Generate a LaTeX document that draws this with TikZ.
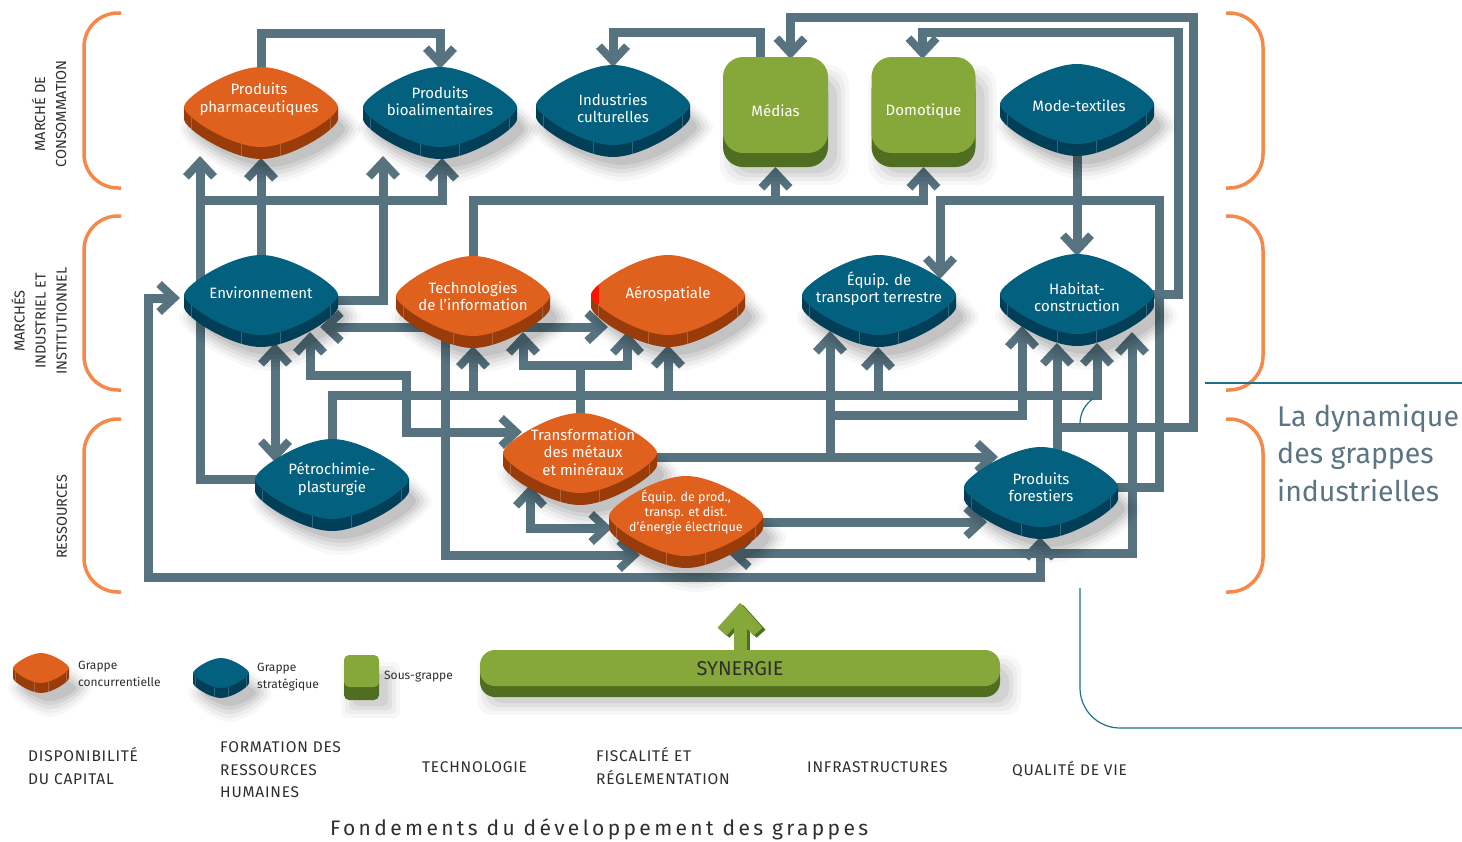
\documentclass[tikz,border=0pt]{standalone}
\usepackage{fontspec}
\setmainfont{Fira Sans}
\newfontfamily\spacedfont[LetterSpace=16]{Fira Sans}
\newfontfamily\capsfont[LetterSpace=5]{Fira Sans}
\usetikzlibrary{arrows.meta,shapes.geometric,calc}
\pgfdeclarelayer{bg}
\pgfsetlayers{bg,main}

\definecolor{linkc}{HTML}{56737F}
\definecolor{orgtop}{HTML}{E0601E}
\definecolor{orgside}{HTML}{9A3B0A}
\definecolor{blutop}{HTML}{03617F}
\definecolor{bluside}{HTML}{013F58}
\definecolor{grntop}{HTML}{86A83B}
\definecolor{grnside}{HTML}{4F6E1F}
\definecolor{brkc}{HTML}{F5894C}
\definecolor{ttlc}{HTML}{5B7583}
\definecolor{frmc}{HTML}{1F6F8F}
\definecolor{lblc}{HTML}{2E2E2E}

% top face of a rounded lozenge: half width, half height, vertical offset
\newcommand\lozpath[3]{(-#1,#3) .. controls (-#1,#3-0.25*#2) and (-0.39*#1,#3-#2) .. (0,#3-#2) .. controls (0.39*#1,#3-#2) and (#1,#3-0.25*#2) .. (#1,#3) .. controls (#1,#3+0.25*#2) and (0.39*#1,#3+#2) .. (0,#3+#2) .. controls (-0.39*#1,#3+#2) and (-#1,#3+0.25*#2) .. (-#1,#3) -- cycle}
% side band of the lozenge, from the middle down to the given depth
\newcommand\lozband[3]{(-#1,0) -- (-#1,#3) .. controls (-#1,#3+0.25*#2) and (-0.39*#1,#3+#2) .. (0,#3+#2) .. controls (0.39*#1,#3+#2) and (#1,#3+0.25*#2) .. (#1,#3) -- (#1,0) -- cycle}

% cluster block: name, position, top colour, side colour, half width, half height, depth
\newcommand\grappe[7]{%
  \node[anchorbox,minimum width={2*#5},minimum height={2*#6}] (#1) at (#2) {};
  \begin{scope}[shift={(#1.center)}]
    \foreach \shx/\shop in {14/0.03,10/0.04,6/0.05,2/0.06,-2/0.07}{%
      \fill[black,opacity=\shop,shift={(9,#7+10)},xscale={1+\shx/#5},yscale={1+\shx/#6}] \lozpath{#5}{#6}{0};}
    \fill[#4] \lozband{#5}{#6}{#7};
    \foreach \fx/\fy in {-0.9/0.26,-0.253/0.92,0.253/0.92,0.9/0.26}{%
      \draw[white,opacity=0.2,line width=0.7pt] (\fx*#5,\fy*#6) -- ++(0,#7);}
    \fill[#3] \lozpath{#5}{#6}{0};
  \end{scope}}

% sub-cluster block: name, position, half width, half height, depth, corner radius
\newcommand\sousgrappe[6]{%
  \node[boxanchor,minimum width={2*#3},minimum height={2*#4}] (#1) at (#2) {};
  \begin{scope}[shift={(#1.center)}]
    \foreach \shx/\shop in {12/0.03,8/0.04,4/0.05,0/0.06}{%
      \fill[black,opacity=\shop,rounded corners=#6,shift={(9,#5+6)}] (-#3-\shx,-#4-\shx) rectangle (#3+\shx,#4+\shx);}
    \fill[grnside,rounded corners=#6] (-#3,-#4+#5) rectangle (#3,#4+#5);
    \fill[grntop,rounded corners=#6] (-#3,-#4) rectangle (#3,#4);
  \end{scope}}

\begin{document}
\begin{tikzpicture}[x=1pt,y=-1pt,
  anchorbox/.style={shape=diamond,inner sep=0pt,draw=none},
  boxanchor/.style={rectangle,inner sep=0pt,draw=none},
  conn/.style={draw=linkc,line width=9pt},
  Chev/.tip={Straight Barb[length=15pt,width=28pt,line width=8pt]},
  txt/.style={text=white,align=center,inner sep=0pt,font=\fontsize{15}{17.5}\selectfont},
  smalltxt/.style={text=white,align=center,inner sep=0pt,font=\fontsize{12.5}{15}\selectfont},
  brk/.style={draw=brkc,line width=3.5pt,rounded corners=34pt},
  sidelbl/.style={align=center,rotate=90,text=lblc,inner sep=0pt,font=\fontsize{14.5}{21}\selectfont},
  lab/.style={anchor=west,align=left,text=lblc,inner sep=0pt,font=\capsfont\fontsize{15.5}{22.5}\selectfont},
  leg/.style={anchor=west,align=left,text=lblc,inner sep=0pt,font=\fontsize{12}{17}\selectfont},
  frame/.style={draw=frmc,line width=1.2pt}]

\begin{pgfonlayer}{bg}
  \fill[white] (0,0) rectangle (1462,841);
\end{pgfonlayer}
\useasboundingbox (0,0) rectangle (1462,841);

% market brackets
\draw[brk] (121,13) -| (84,188) -- (121,188);
\draw[brk] (121,216) -| (84,390) -- (121,390);
\draw[brk] (121,419) -| (84,592) -- (121,592);
\draw[brk] (1226,13) -| (1263,188) -- (1226,188);
\draw[brk] (1226,216) -| (1263,390) -- (1226,390);
\draw[brk] (1226,419) -| (1263,592) -- (1226,592);

\node[sidelbl] (m1) at (49,114) {MARCHÉ DE\\CONSOMMATION};
\node[sidelbl] (m2) at (39,321) {MARCHÉS\\INDUSTRIEL ET\\INSTITUTIONNEL};
\node[sidelbl] (m3) at (62,517) {RESSOURCES};

% title and frame
\node[anchor=north west,align=left,text=ttlc,inner sep=0pt,font=\fontsize{28.5}{37.5}\selectfont] (titre) at (1277,404) {La dynamique\\des grappes\\industrielles};
\draw[frame] (1205,383) -- (1462,383);
\draw[frame] (1080,424) .. controls (1080,413) and (1085,404) .. (1094,398);
\draw[frame,rounded corners=40pt] (1080,588) |- (1462,728);

% consumer markets
\grappe{pharma}{261,107}{orgtop}{orgside}{77}{40}{12}
\grappe{bio}{440,107}{blutop}{bluside}{77}{40}{12}
\grappe{cult}{613,105}{blutop}{bluside}{77}{40}{12}
\sousgrappe{medias}{775.5,105}{52.5}{48}{14}{20}
\sousgrappe{domo}{923.5,105}{52}{48}{14}{20}
\grappe{mode}{1077,104}{blutop}{bluside}{77}{40}{12}
% industrial and institutional markets
\grappe{env}{261,295}{blutop}{bluside}{77}{40}{12}
\grappe{tic}{473,296}{orgtop}{orgside}{77}{40}{12}
\grappe{aero}{668,295}{orgtop}{orgside}{77}{40}{12}
\begin{scope}[shift={(aero.center)}]
  \clip \lozpath{77}{40}{0};
  \fill[red!85!orange] (-80,-16) rectangle (-69,9);
\end{scope}
\grappe{transp}{879,295}{blutop}{bluside}{77}{40}{12}
\grappe{habitat}{1077,294}{blutop}{bluside}{77}{40}{12}
% resources
\grappe{petro}{332,479}{blutop}{bluside}{77}{40}{12}
\grappe{metaux}{580,453}{orgtop}{orgside}{77}{40}{12}
\grappe{energie}{686,516}{orgtop}{orgside}{77}{40}{12}
\grappe{forest}{1041,487}{blutop}{bluside}{77}{40}{12}

\node[txt] (pharma-t) at ($(pharma)+(-2,-8)$) {Produits\\pharmaceutiques};
\node[txt] (bio-t) at ($(bio)+(0,-6)$) {Produits\\bioalimentaires};
\node[txt] (cult-t) at ($(cult)+(0,3)$) {Industries\\culturelles};
\node[txt] (medias-t) at ($(medias)+(0,6)$) {Médias};
\node[txt] (domo-t) at ($(domo)+(0,6)$) {Domotique};
\node[txt] (mode-t) at ($(mode)+(2,2)$) {Mode-textiles};
\node[txt] (env-t) at ($(env)+(0,-2)$) {Environnement};
\node[txt] (tic-t) at ($(tic)+(0,0)$) {Technologies\\de l’information};
\node[txt] (aero-t) at ($(aero)+(0,-1)$) {Aérospatiale};
\node[txt] (transp-t) at ($(transp)+(0,-6)$) {Équip. de\\transport terrestre};
\node[txt] (habitat-t) at ($(habitat)+(0,3)$) {Habitat-\\construction};
\node[txt] (petro-t) at ($(petro)+(0,0)$) {Pétrochimie-\\plasturgie};
\node[txt] (metaux-t) at ($(metaux)+(3,-1)$) {Transformation\\des métaux\\et minéraux};
\node[smalltxt] (energie-t) at ($(energie)+(0,-4)$) {Équip. de prod.,\\transp. et dist.\\d’énergie électrique};
\node[txt] (forest-t) at ($(forest)+(0,0)$) {Produits\\forestiers};

% legend
\grappe{lgc}{41,668}{orgtop}{orgside}{28}{15}{10}
\node[leg] (lgc-t) at (78,673.5) {Grappe\\concurrentielle};
\grappe{lgs}{221,673}{blutop}{bluside}{28}{15}{10}
\node[leg] (lgs-t) at (257,677.5) {Grappe\\stratégique};
\sousgrappe{lsg}{361.5,671}{17.5}{16}{13}{5}
\node[leg] (lsg-t) at (384,677) {Sous-grappe};

% synergy bar
\sousgrappe{syn}{740,668}{260}{18}{11}{15}
\node[text=lblc,inner sep=0pt,font=\fontsize{20}{22}\selectfont] (syn-t) at (740,669) {SYNERGIE};

% foundations
\node[lab] (f1) at (28,766) {DISPONIBILITÉ\\DU CAPITAL};
\node[lab] (f2) at (220,770) {FORMATION DES\\RESSOURCES\\HUMAINES};
\node[lab] (f3) at (422,767) {TECHNOLOGIE};
\node[lab] (f4) at (596,766) {FISCALITÉ ET\\RÉGLEMENTATION};
\node[lab] (f5) at (807,767) {INFRASTRUCTURES};
\node[lab] (f6) at (1012,769) {QUALITÉ DE VIE};
\node[anchor=west,inner sep=0pt,text=lblc,font=\spacedfont\fontsize{21}{24}\selectfont] (fond) at (330,829) {Fondements du développement des grappes};

\begin{pgfonlayer}{bg}
  % synergy arrow
  \draw[line width=13pt,draw=grnside,-{Straight Barb[length=20pt,width=36pt,line width=12pt]}] ($(syn.north)+(3,8)$) -- ($(syn.north)+(3,-45)$);
  \draw[line width=13pt,draw=grntop,-{Straight Barb[length=20pt,width=36pt,line width=12pt]}] ($(syn.north)+(0,8)$) -- ($(syn.north)+(0,-47)$);

  % consumer market links
  \draw[conn,-Chev] (pharma.center) |- ($(bio)+(0,-74)$) -- ($(bio)+(0,-38)$);
  \draw[conn,-Chev] (env.center) -- ($(pharma)+(0,51)$);
  \draw[conn,-Chev] (petro.center) -| ($(pharma)+(-61,49)$);
  \draw[conn,-Chev] ($(pharma)+(-61,93)$) -| ($(bio)+(2,51)$);
  \draw[conn,-Chev] ($(env)+(0,5)$) -| ($(bio)+(-57,49)$);
  \draw[conn,-Chev] (tic.center) |- ($(domo)+(0,95)$) -- ($(domo)+(0,62)$);
  \draw[conn,-Chev] ($(medias)+(0,95)$) -- ($(medias)+(0,62)$);
  \draw[conn,-Chev] ($(medias)+(-15,0)$) |- ($(cult)+(0,-73)$) -- ($(cult)+(0,-38)$);
  \draw[conn,-Chev] ($(forest)+(16,0)$) -- ($(habitat)+(-20,49)$);
  \draw[conn,-Chev] ($(forest)+(16,-60)$) -| ($(habitat)+(116,-277)$) -| ($(medias)+(15,-46)$);
  \draw[conn,-Chev] (habitat.center) -| ($(mode)+(101,-72)$) -| ($(domo)+(-1,-46)$);
  \draw[conn,-Chev] (forest.center) -| ($(mode)+(82,96)$) -| ($(transp)+(61,-16)$);
  \draw[conn,-Chev] (mode.center) -- ($(habitat)+(0,-38)$);

  % petrochemical bus
  \draw[conn,-Chev] (petro.center) |- ($(habitat)+(20,101)$) -- ($(habitat)+(20,49)$);
  \draw[conn,-Chev] ($(tic)+(0,99)$) -- ($(tic)+(0,50)$);
  \draw[conn,-Chev] ($(aero)+(0,100)$) -- ($(aero)+(0,50)$);
  \draw[conn,-Chev] ($(transp)+(-1,100)$) -- ($(transp)+(-1,52)$);

  % metals links
  \draw[conn,-Chev] ($(metaux)+(0,4)$) -- ($(forest)+(-43,-30)$);
  \draw[conn,-Chev] ($(transp)+(-49,162)$) -- ($(transp)+(-49,36)$);
  \draw[conn,-Chev] ($(transp)+(-49,120)$) -| ($(habitat)+(-55,32)$);
  \draw[conn,-Chev] (metaux.center) |- ($(tic)+(50,69)$) -- ($(tic)+(50,36)$);
  \draw[conn,-Chev] ($(metaux)+(0,-88)$) -| ($(aero)+(-41,37)$);

  % remaining links
  \draw[conn,Chev-Chev] ($(env)+(59,32)$) -- ($(aero)+(-60,32)$);
  \draw[conn,Chev-Chev] ($(env)+(49,37)$) |- ($(tic)+(-67,79)$) |- ($(metaux)+(-58,-21)$);
  \draw[conn,Chev-Chev] ($(env)+(14,48)$) -- ($(petro)+(-57,-17)$);
  \draw[conn,-Chev] ($(tic)+(-28,0)$) |- ($(energie)+(-46,39)$);
  \draw[conn,Chev-Chev] ($(metaux)+(-50,32)$) |- ($(energie)+(-74,12)$);
  \draw[conn,-Chev] ($(energie)+(0,6)$) -- ($(forest)+(-54,35)$);
  \draw[conn,Chev-Chev] ($(energie)+(42,37)$) -| ($(habitat)+(55,38)$);
  \draw[conn,Chev-Chev] ($(forest)+(-1,50)$) |- ($(env)+(-113,282)$) |- ($(env)+(-81,3)$);
\end{pgfonlayer}
\end{tikzpicture}
\end{document}
